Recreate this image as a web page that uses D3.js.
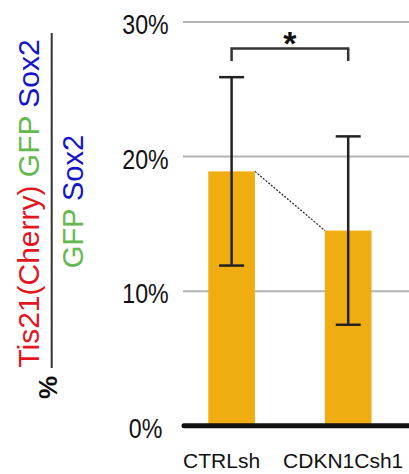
<!DOCTYPE html>
<html>
<head>
<meta charset="utf-8">
<script src="https://cdn.jsdelivr.net/npm/d3@7"></script>
<style>
  html, body { margin: 0; padding: 0; background: #fff; }
  svg { display: block; font-family: "Liberation Sans", Arial, sans-serif; }
</style>
</head>
<body>
<svg id="chart" width="409" height="474"></svg>
<script>
// ---- data ----
const categories = ["CTRLsh", "CDKN1Csh1"];
const values = [18.9, 14.5];
const errors = [7.0, 7.0];
const tickValues = [0, 10, 20, 30];
const tickLabels = ["0%", "10%", "20%", "30%"];
const significance = "*";

const svg = d3.select("#chart");

const y = d3.scaleLinear().domain([0, 30]).range([425.7, 22]);
const x = d3.scaleBand().domain(categories).range([173.3, 406.5])
  .paddingInner(0.6).paddingOuter(0.3);

const gridX0 = 183, gridX1 = 409;

// gridlines
svg.append("g").selectAll("line")
  .data(tickValues.filter(v => v > 0))
  .join("line")
  .attr("x1", gridX0).attr("x2", gridX1)
  .attr("y1", d => y(d)).attr("y2", d => y(d))
  .attr("stroke", "#b4b4b4").attr("stroke-width", 2);

// tick labels
svg.append("g").selectAll("text")
  .data(tickValues)
  .join("text")
  .attr("transform", d => `translate(145.5, ${y(d) + 2.5}) scale(0.86,1)`)
  .attr("text-anchor", "middle")
  .attr("dominant-baseline", "central")
  .attr("font-size", 27)
  .attr("fill", "#111")
  .text((d, i) => tickLabels[i]);

// bars
svg.append("g").selectAll("rect")
  .data(categories)
  .join("rect")
  .attr("x", d => x(d))
  .attr("width", x.bandwidth())
  .attr("y", (d, i) => y(values[i]))
  .attr("height", (d, i) => y(0) - y(values[i]))
  .attr("fill", "#f0ad12");

// baseline
svg.append("line")
  .attr("x1", gridX0 + 1).attr("x2", gridX1)
  .attr("y1", y(0)).attr("y2", y(0))
  .attr("stroke", "#111").attr("stroke-width", 5)
  .attr("stroke-linecap", "round");

// dotted connector between bar tops
svg.append("line")
  .attr("x1", x(categories[0]) + x.bandwidth())
  .attr("y1", y(values[0]))
  .attr("x2", x(categories[1]))
  .attr("y2", y(values[1]))
  .attr("stroke", "#222").attr("stroke-width", 1.2)
  .attr("stroke-dasharray", "2,1.5");

// error bars
const cx = d => x(d) + x.bandwidth() / 2;
const capW = 25;
const eb = svg.append("g").attr("stroke", "#222").attr("stroke-width", 2.5);
categories.forEach((c, i) => {
  const hi = y(values[i] + errors[i]), lo = y(values[i] - errors[i]);
  eb.append("line").attr("x1", cx(c)).attr("x2", cx(c)).attr("y1", hi).attr("y2", lo);
  eb.append("line").attr("x1", cx(c) - capW / 2).attr("x2", cx(c) + capW / 2).attr("y1", hi).attr("y2", hi);
  eb.append("line").attr("x1", cx(c) - capW / 2).attr("x2", cx(c) + capW / 2).attr("y1", lo).attr("y2", lo);
});

// significance bracket
const bTop = 48.5, bLeg = 61;
svg.append("path")
  .attr("d", `M${cx(categories[0])},${bLeg} V${bTop} H${cx(categories[1])} V${bLeg}`)
  .attr("fill", "none").attr("stroke", "#333").attr("stroke-width", 2.5);
svg.append("text")
  .attr("x", (cx(categories[0]) + cx(categories[1])) / 2)
  .attr("y", 55)
  .attr("text-anchor", "middle")
  .attr("font-size", 34)
  .attr("font-weight", "bold")
  .attr("fill", "#111")
  .text(significance);

// x labels
const xOffsets = [-10, -5];
svg.append("g").selectAll("text")
  .data(categories)
  .join("text")
  .attr("x", (d, i) => cx(d) + xOffsets[i])
  .attr("y", 468.3)
  .attr("text-anchor", "middle")
  .attr("font-size", 21)
  .attr("fill", "#111")
  .text(d => d);

// y-axis title (fraction)
const red = "#e3151f", green = "#63b94f", blue = "#1414cc";
const num = svg.append("text")
  .attr("transform", "translate(38.5,203.5) rotate(-90)")
  .attr("text-anchor", "middle")
  .attr("font-size", 30);
num.append("tspan").attr("fill", red).text("Tis21(Cherry)");
num.append("tspan").attr("fill", green).text(" GFP");
num.append("tspan").attr("fill", blue).text(" Sox2");

svg.append("line")
  .attr("x1", 51.7).attr("x2", 51.7).attr("y1", 33).attr("y2", 368)
  .attr("stroke", "#333").attr("stroke-width", 2);

const den = svg.append("text")
  .attr("transform", "translate(83,201.5) rotate(-90)")
  .attr("text-anchor", "middle")
  .attr("font-size", 29);
den.append("tspan").attr("fill", green).text("GFP");
den.append("tspan").attr("fill", blue).text(" Sox2");

svg.append("text")
  .attr("transform", "translate(56.5,387.5) rotate(-90)")
  .attr("text-anchor", "middle")
  .attr("font-size", 26)
  .attr("font-weight", "bold")
  .attr("fill", "#111")
  .text("%");
</script>
</body>
</html>
